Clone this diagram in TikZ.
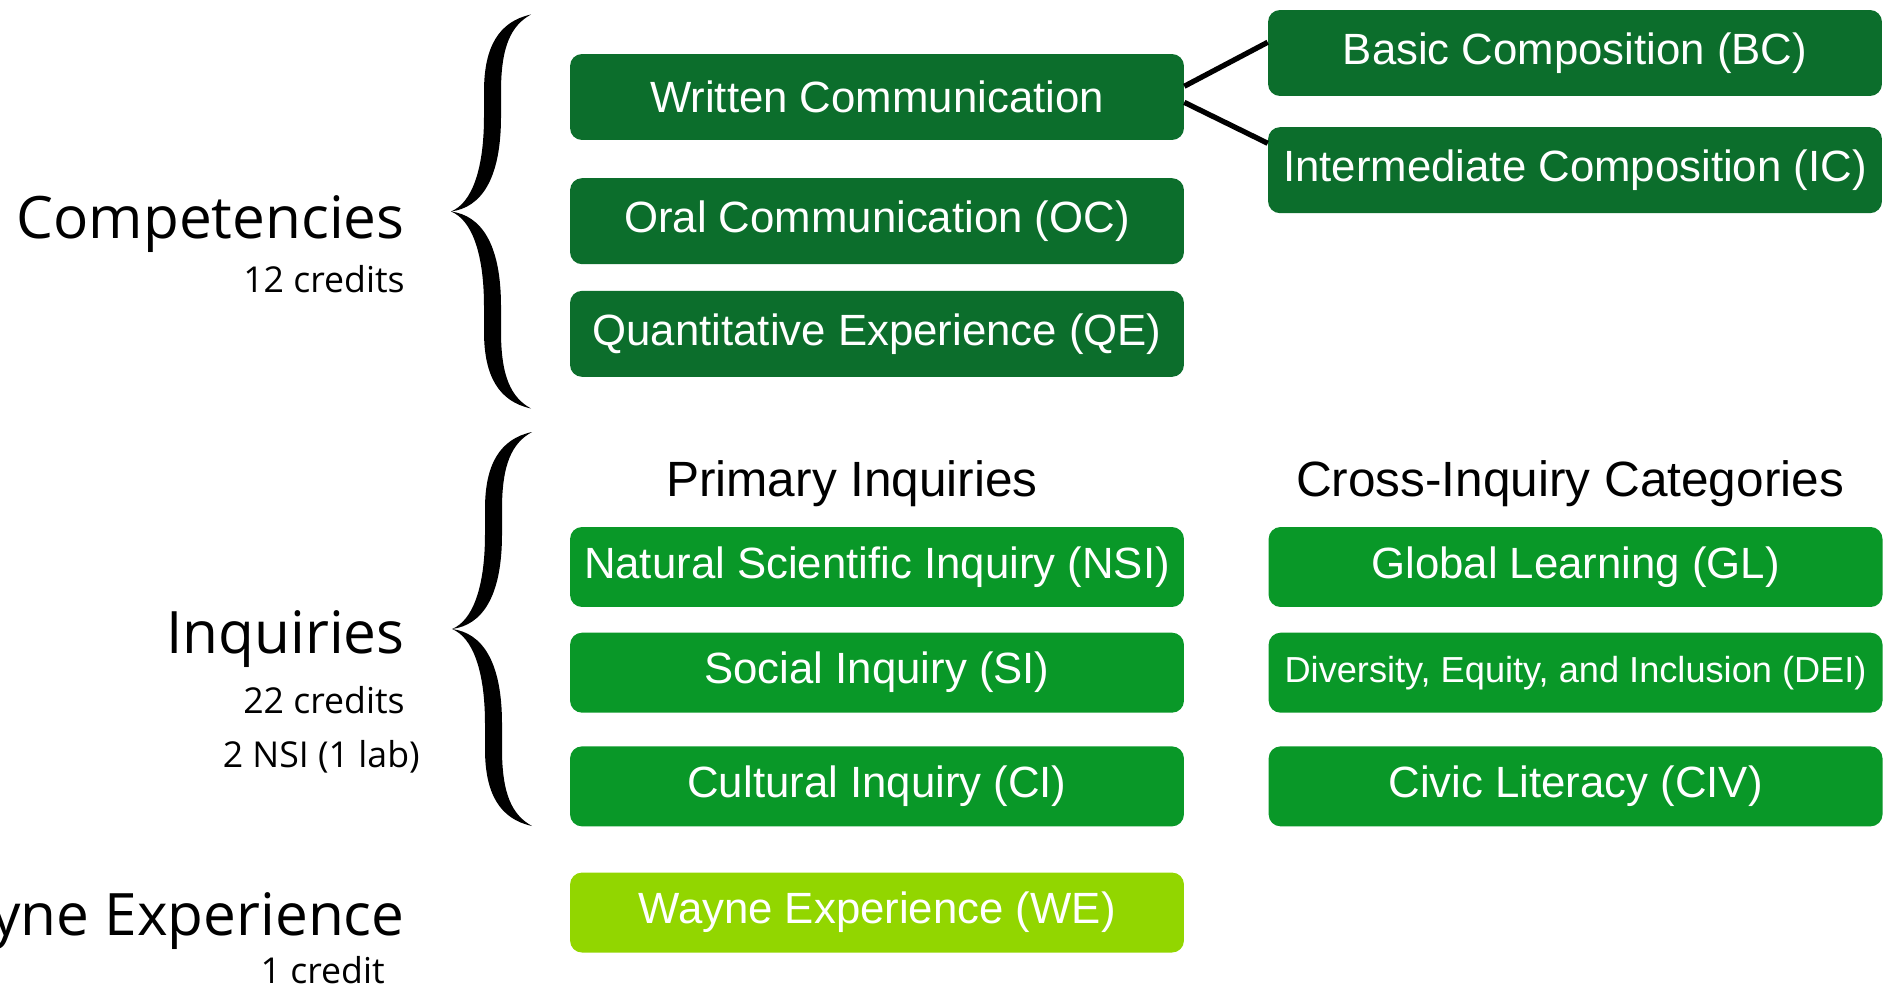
\documentclass[tikz,border=0pt]{standalone}
\usepackage{fontspec}
\setmainfont{Liberation Sans}
\newfontfamily\labelfont{Open Sans}
\usetikzlibrary{positioning}
\definecolor{compgreen}{RGB}{12,110,44}
\definecolor{inqgreen}{RGB}{9,152,40}
\definecolor{wegreen}{RGB}{146,214,0}
\tikzset{
  genedu/.style={x=0.02cm, y=-0.02cm},
  catbox/.style={
    rectangle, rounded corners=6.8pt, text=white, inner sep=0pt,
    minimum width=12.28cm, minimum height=1.6cm, align=center,
    font=\fontsize{24.9}{29}\selectfont
  },
  compbox/.style={catbox, fill=compgreen, minimum height=1.72cm},
  inqbox/.style={catbox, fill=inqgreen},
  webox/.style={catbox, fill=wegreen},
  heading/.style={font=\fontsize{28.2}{33}\selectfont, inner sep=0pt, anchor=base},
  biglabel/.style={font=\labelfont\fontsize{33.3}{40}\selectfont, inner sep=0pt, anchor=base east},
  smalllabel/.style={font=\labelfont\fontsize{20.3}{24}\selectfont, inner sep=0pt, anchor=base east},
  link/.style={line width=3pt},
  bigbrace/.pic={
    \fill (80,-197) .. controls (48,-190) and (33,-165) .. (33,-120)
      -- (33,-95) .. controls (33,-40) and (20,-8) .. (0,0)
      .. controls (20,8) and (33,40) .. (33,95)
      -- (33,120) .. controls (33,165) and (48,190) .. (80,197)
      .. controls (60,186) and (50,165) .. (50,120)
      -- (50,95) .. controls (50,32) and (30,4) .. (0,0)
      .. controls (30,-4) and (50,-32) .. (50,-95)
      -- (50,-120) .. controls (50,-165) and (60,-186) .. (80,-197) -- cycle;
  }
}
\begin{document}
\begin{tikzpicture}[genedu]
\useasboundingbox (0,0) rectangle (1888,989);

% 1 : Competencies
\node[compbox] (wc) at (877,97) {Written Communication};
\node[compbox, below=0.75cm of wc] (oc) {Oral Communication (OC)};
\node[compbox, below=0.52cm of oc] (qe) {Quantitative Experience (QE)};
\node[compbox] (bc) at (1575,53) {Basic Composition (BC)};
\node[compbox, below=0.61cm of bc] (ic) {Intermediate Composition (IC)};
\draw[link] (wc.2.6) -- (bc.178.9);
\draw[link] (wc.-1.9) -- (ic.175.8);

\pic at (451,211.5) {bigbrace};
\node[biglabel] (comp) at (405,239) {Competencies};
\node[smalllabel] (compcr) at (405,293) {12 credits};

% 2 : Inquiries
\node[heading] (prim) at (852,496) {Primary Inquiries};
\node[heading] (cross) at (1570,496) {Cross-Inquiry Categories};
\node[inqbox] (nsi) at (877,567) {Natural Scientific Inquiry (NSI)};
\node[inqbox, below=0.5cm of nsi] (si) {Social Inquiry (SI)};
\node[inqbox, below=0.66cm of si] (ci) {Cultural Inquiry (CI)};
\node[inqbox, right=1.68cm of nsi] (gl) {Global Learning (GL)};
\node[inqbox, right=1.68cm of si, font=\fontsize{20.6}{24}\selectfont] (dei) {Diversity, Equity, and Inclusion (DEI)};
\node[inqbox, right=1.68cm of ci] (civ) {Civic Literacy (CIV)};

\pic at (452,629) {bigbrace};
\node[biglabel] (inq) at (405,653) {Inquiries};
\node[smalllabel] (inqcr) at (405,713) {22 credits};
\node[smalllabel] (inqlab) at (420,767) {2 NSI (1 lab)};

% 3 : Wayne Experience
\node[webox, below=0.91cm of ci] (we) {Wayne Experience (WE)};
\node[biglabel] (wayne) at (405,935) {Wayne Experience};
\node[smalllabel] (waynecr) at (385,983) {1 credit};

\end{tikzpicture}
\end{document}
